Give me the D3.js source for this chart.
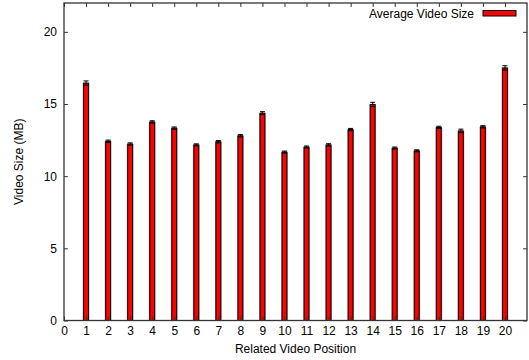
<!DOCTYPE html>
<html>
<head>
<meta charset="utf-8">
<script src="https://cdn.jsdelivr.net/npm/d3@7"></script>
<style>
body { margin: 0; background: #fff; }
svg { display: block; font-family: "Liberation Sans", Arial, sans-serif; }
</style>
</head>
<body>
<svg width="529" height="360"></svg>
<script>
var positions = [1, 2, 3, 4, 5, 6, 7, 8, 9, 10, 11, 12, 13, 14, 15, 16, 17, 18, 19, 20];
var sizes = [16.45, 12.42, 12.23, 13.76, 13.33, 12.17, 12.39, 12.80, 14.37, 11.67,
             12.02, 12.17, 13.23, 14.97, 11.95, 11.76, 13.38, 13.14, 13.42, 17.50];
var errors = [0.15, 0.08, 0.08, 0.08, 0.08, 0.07, 0.08, 0.08, 0.1, 0.07,
              0.07, 0.08, 0.08, 0.15, 0.07, 0.07, 0.08, 0.12, 0.08, 0.15];
var xTicks = d3.range(0, 21);
var yTicks = [0, 5, 10, 15, 20];

var svg = d3.select("svg"),
    plotLeft = 64, plotRight = 527, plotTop = 3, plotBottom = 320.5;

var xScale = d3.scaleLinear().domain([0, 21]).range([plotLeft, plotRight]);
var yScale = d3.scaleLinear().domain([0, 22]).range([plotBottom, plotTop]);

var data = positions.map(function (p, i) {
    return { pos: p, value: sizes[i], err: errors[i] };
});

var barW = xScale(0.22) - xScale(0);

// bars (gray halo, then red with black outline)
svg.selectAll(".halo")
    .data(data)
    .enter().append("rect")
    .attr("x", function (d) { return xScale(d.pos) - barW / 2 - 1; })
    .attr("y", function (d) { return yScale(d.value); })
    .attr("width", barW + 2)
    .attr("height", function (d) { return plotBottom - yScale(d.value); })
    .attr("fill", "#aaa");

svg.selectAll(".bar")
    .data(data)
    .enter().append("rect")
    .attr("class", "bar")
    .attr("x", function (d) { return xScale(d.pos) - barW / 2; })
    .attr("y", function (d) { return yScale(d.value); })
    .attr("width", barW)
    .attr("height", function (d) { return plotBottom - yScale(d.value); })
    .attr("fill", "#ff0000")
    .attr("stroke", "#000")
    .attr("stroke-width", 1);

// error bars
var eb = svg.selectAll(".err")
    .data(data)
    .enter().append("g")
    .attr("stroke", "#000")
    .attr("stroke-width", 1);
eb.append("line")
    .attr("x1", function (d) { return xScale(d.pos); })
    .attr("x2", function (d) { return xScale(d.pos); })
    .attr("y1", function (d) { return yScale(d.value - d.err); })
    .attr("y2", function (d) { return yScale(d.value + d.err); });
eb.selectAll(".cap")
    .data(function (d) { return [[d.pos, d.value - d.err], [d.pos, d.value + d.err]]; })
    .enter().append("line")
    .attr("x1", function (d) { return xScale(d[0]) - 2.5; })
    .attr("x2", function (d) { return xScale(d[0]) + 2.5; })
    .attr("y1", function (d) { return yScale(d[1]); })
    .attr("y2", function (d) { return yScale(d[1]); });

// axes
var axisColor = "#333";
function styleAxis(g) {
    g.select(".domain").remove();
    g.selectAll(".tick line").attr("stroke", axisColor);
    g.selectAll(".tick text").attr("fill", "#000").style("font-size", "12px")
        .style("font-family", "Liberation Sans, Arial, sans-serif");
}

svg.append("g")
    .attr("transform", "translate(0," + plotBottom + ")")
    .call(d3.axisBottom(xScale).tickValues(xTicks).tickSize(-4).tickPadding(6))
    .call(styleAxis);

svg.append("g")
    .attr("transform", "translate(0," + plotTop + ")")
    .call(d3.axisTop(xScale).tickValues(xTicks).tickSize(-4).tickFormat(""))
    .call(styleAxis);

svg.append("g")
    .attr("transform", "translate(" + plotLeft + ",0)")
    .call(d3.axisLeft(yScale).tickValues(yTicks).tickSize(-4).tickPadding(7))
    .call(styleAxis);

svg.append("g")
    .attr("transform", "translate(" + plotRight + ",0)")
    .call(d3.axisRight(yScale).tickValues(yTicks).tickSize(-4).tickFormat(""))
    .call(styleAxis);

// frame
svg.append("rect")
    .attr("x", plotLeft).attr("y", plotTop)
    .attr("width", plotRight - plotLeft).attr("height", plotBottom - plotTop)
    .attr("fill", "none")
    .attr("stroke", axisColor)
    .attr("stroke-width", 1.3);

// axis titles
svg.append("text")
    .attr("x", (plotLeft + plotRight) / 2)
    .attr("y", 353)
    .attr("text-anchor", "middle")
    .style("font-size", "12px")
    .text("Related Video Position");

svg.append("text")
    .attr("transform", "translate(23," + (plotTop + plotBottom) / 2 + ") rotate(-90)")
    .attr("text-anchor", "middle")
    .style("font-size", "12px")
    .text("Video Size (MB)");

// legend
svg.append("text")
    .attr("x", 474)
    .attr("y", 17.5)
    .attr("text-anchor", "end")
    .style("font-size", "12px")
    .text("Average Video Size");

svg.append("rect")
    .attr("x", 483).attr("y", 10.5)
    .attr("width", 33).attr("height", 5.5)
    .attr("fill", "#ff0000")
    .attr("stroke", "#000")
    .attr("stroke-width", 1);
</script>
</body>
</html>
